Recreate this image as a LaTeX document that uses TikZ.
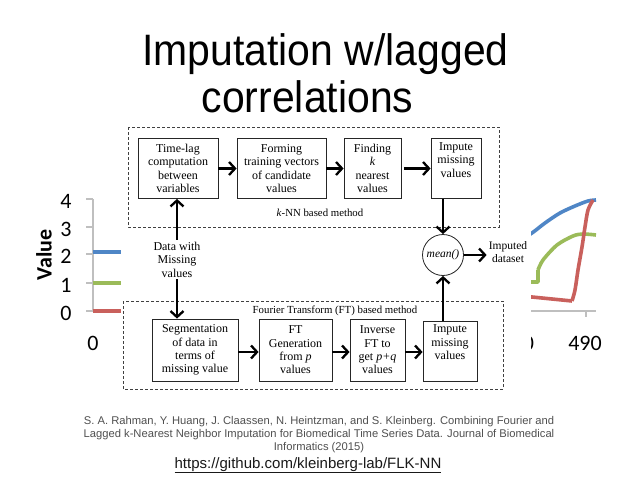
\documentclass[tikz,border=0pt]{standalone}
\usepackage{fontspec}
\setmainfont{Liberation Serif}
\newfontfamily\titlefont{Liberation Sans}
\newfontfamily\chartfont{Carlito}
\usetikzlibrary{arrows.meta}
\definecolor{cblue}{HTML}{4F86C6}
\definecolor{cgreen}{HTML}{9BBB59}
\definecolor{cred}{HTML}{C9605C}
\definecolor{caxis}{HTML}{BFBFBF}
\definecolor{cite}{HTML}{505050}
\begin{document}
\begin{tikzpicture}[x=1pt,y=-1pt,
  axis/.style={draw=caxis,line width=1.1pt},
  series/.style={line width=3.6pt,line cap=butt,line join=round},
  ticklab/.style={font=\chartfont\fontsize{22}{24}\selectfont,inner sep=0pt},
  box/.style={draw=black!85,line width=0.8pt,fill=white,align=center,inner sep=0pt,
    font=\fontsize{12}{13.3}\selectfont},
  plain/.style={align=center,inner sep=2pt,font=\fontsize{12}{13.5}\selectfont},
  lab/.style={inner sep=0pt,font=\fontsize{10.8}{12}\selectfont},
  dbox/.style={draw=black!75,line width=0.7pt,dash pattern=on 3pt off 2pt},
  arr/.style={line width=2.3pt,-{Straight Barb[length=6pt,width=13pt]}}]
\useasboundingbox (0,0) rectangle (638,479);
\fill[white] (0,0) rectangle (638,479);

% ---------- background chart ----------
\draw[axis] (93,199) -- (93,311);
\foreach \y in {199,227,254,283,311} \draw[axis] (86,\y) -- (93,\y);
\foreach \y/\v in {199/4,227/3,254/2,283/1,311/0}
  \node[ticklab] (yl\v) at (66,\y+2.5) {\v};
\node[font=\chartfont\bfseries\fontsize{22}{24}\selectfont,rotate=90,inner sep=0pt] (vlab) at (44,255) {Value};
\node[ticklab] (xl0) at (93,343) {0};
\draw[series,cblue] (93,252) -- (122,252);
\draw[series,cgreen] (93,283) -- (122,283);
\draw[series,cred] (93,311) -- (122,311);

\node[ticklab] (xlhid) at (528.5,343) {0};
\node[ticklab] (xl490) at (585,343) {490};
\draw[axis] (520,311) -- (596,311);
\draw[axis] (586,311) -- (586,317);
\draw[series,cblue] plot[smooth] coordinates {(520,240) (532,233) (545,223) (560,213) (575,206) (588,201) (596,200)};
\draw[series,cgreen] (520,282) -- (538,282) -- (538,270) plot[smooth] coordinates {(538,270) (543,260) (557,245) (573,236) (583,234) (596,235)};
\draw[series,cred] (520,296.5) -- (532,297) -- (572,301) plot[smooth] coordinates {(572,301) (575,290) (578,270) (582,247) (585,227) (588,210) (593,200)};

% white backdrop of the inserted diagram
\fill[white] (121,121) rectangle (531,396);

% ---------- title ----------
\node[anchor=base,inner sep=0pt,font=\titlefont\fontsize{44}{48}\selectfont] (t1) at (325.5,65) {\scalebox{0.93}[1]{Imputation w/lagged}};
\node[anchor=base,inner sep=0pt,font=\titlefont\fontsize{44}{48}\selectfont] (t2) at (307.5,112) {\scalebox{0.93}[1]{correlations}};

% ---------- diagram ----------
\draw[dbox] (128,127) rectangle (499,227);
\draw[dbox] (123,301) rectangle (503,389);

\node[box,minimum width=80pt,minimum height=60pt] (b1) at (178,168.5) {Time-lag\\computation\\between\\variables};
\node[box,minimum width=89pt,minimum height=60pt] (b2) at (281.5,168.5) {Forming\\training vectors\\of candidate\\values};
\node[box,minimum width=57pt,minimum height=60pt] (b3) at (372.5,168.5) {Finding\\\textit{k}\\nearest\\values};
\node[box,minimum width=50pt,minimum height=60pt] (b4) at (456,168.5) {Impute\\missing\\values\\\strut};
\node[lab] (knn) at (320,213) {\textit{k}-NN based method};

\node[draw=black!85,line width=0.8pt,circle,minimum size=41pt,inner sep=0pt,
  font=\fontsize{11.5}{13}\selectfont] (m) at (443,255) {\textit{mean()}};
\node[plain,inner sep=2pt,font=\fontsize{11.5}{12.5}\selectfont] (imp) at (508,252) {Imputed\\dataset};
\node[plain] (d) at (177,259.5) {Data with\\Missing\\values};

\node[lab] (ft) at (335,311) {Fourier Transform (FT) based method};
\node[box,minimum width=86pt,minimum height=62pt] (b5) at (195,350) {Segmentation\\of data in\\terms of\\missing value};
\node[box,minimum width=73pt,minimum height=62pt] (b6) at (295.5,350) {FT\\Generation\\from \textit{p}\\values};
\node[box,minimum width=55pt,minimum height=62pt] (b7) at (377.5,350) {Inverse\\FT to\\get \textit{p+q}\\values};
\node[box,minimum width=54pt,minimum height=60pt] (b8) at (450,351) {Impute\\missing\\values\\\strut};

\draw[arr] (b1.east) -- (b2.west);
\draw[arr] (b2.east) -- (b3.west);
\draw[arr] ([xshift=3pt]b3.east) -- (b4.west);
\draw[arr] (b4.south -| m.north) -- (m.north);
\draw[arr] (m.east) -- (m.east -| imp.west);
\draw[arr] (b8.north -| m.south) -- (m.south);
\draw[arr] (d.north) -- (d.north |- b1.south);
\draw[arr] (d.south) -- (d.south |- b5.north);
\draw[arr] ([yshift=-2pt]b5.east) -- ([yshift=-2pt]b6.west);
\draw[arr] ([yshift=-2pt]b6.east) -- ([yshift=-2pt]b7.west);
\draw[arr] ([yshift=-2pt]b7.east) -- ([yshift=-2pt]b7.east -| b8.west);

% ---------- citation ----------
\node[align=center,inner sep=0pt,text=cite,font=\titlefont\fontsize{11.2}{13}\selectfont] (cit) at (319,435)
  {S. A. Rahman, Y. Huang, J. Claassen, N. Heintzman, and S. Kleinberg. Combining Fourier and\\
   Lagged k-Nearest Neighbor Imputation for Biomedical Time Series Data. Journal of Biomedical\\
   Informatics (2015)};
\node[anchor=base,inner sep=0pt,text=black!90,font=\titlefont\fontsize{15}{17}\selectfont] (url) at (308,468)
  {\underline{https://github.com/kleinberg-lab/FLK-NN}};
\end{tikzpicture}
\end{document}
